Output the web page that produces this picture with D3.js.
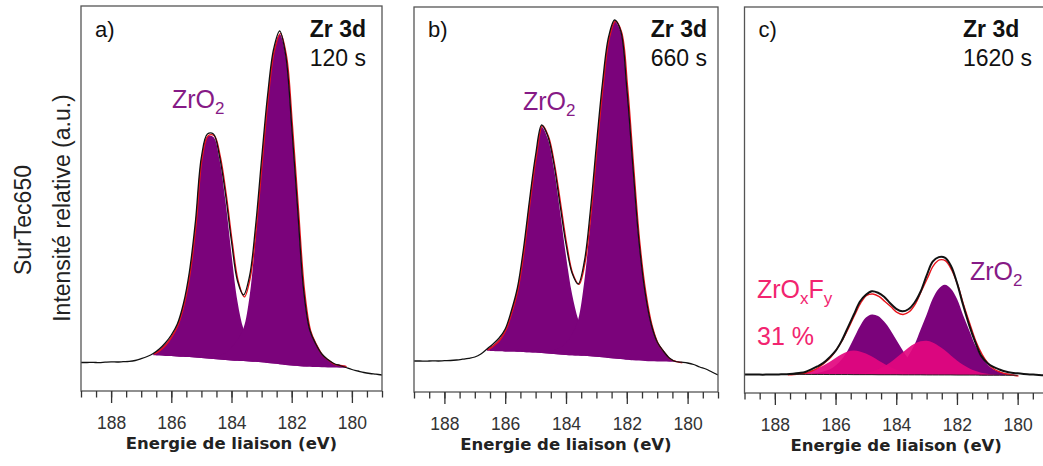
<!DOCTYPE html>
<html><head><meta charset="utf-8">
<script src="https://cdn.jsdelivr.net/npm/d3@7"></script>
<style>body{margin:0;background:#fff;overflow:hidden}svg{display:block}</style>
</head><body><svg id="chart" width="1043" height="466"></svg>
<script>
// ---------- DATA (binding energy in eV, intensity in arbitrary units) ----------
const rawEnergy = [189.0,188.8,188.6,188.4,188.2,188.0,187.8,187.6,187.4,187.2,187.0,
  186.8,186.6,186.4,186.2,186.0,185.8,185.6,185.4,185.2,185.0,
  184.8,184.6,184.4,184.2,184.0,183.8,183.6,183.4,183.2,183.0,
  182.8,182.6,182.4,182.2,182.0,181.8,181.6,181.4,181.2,181.0,
  180.8,180.6,180.4,180.2,180.0,179.8,179.6,179.4,179.2,179.0];

// a) 120 s
const rawA = [28.5,28.5,28.7,28.3,28.8,29.2,29.0,29.3,29.6,30.5,32.3,
  34.5,37.5,42,48,56,67,87,119,169,234,
  257,257,235,197,149.5,110,96,115,165,232,
  296,342,360,336,265,181,100,61,47,37,
  31.5,27.5,25.5,23.5,21.5,20,18.5,17.5,16.8,16];
// b) 660 s
const rawB = [31,31,30.8,31.2,31,31.3,31.5,32,32.8,33.7,35,
  38,43,48,54,63,81,104,143,192,237,
  267,256,228.5,188,148,119,108,130,181,247,
  309,355,372,361,304,226,151,100,68,50,
  41,34,30.5,29.8,29,27.5,25,23,20,17];
// c) 1620 s
const rawC = [18.5,18.5,18.5,18.3,18.5,18.4,18.6,18.8,19.3,20,21,
  23.5,26.5,30,35.5,42,52,65,78,91,98,
  101.5,100,96,89.5,84,81.5,83.5,90,101,117,
  131,135.5,135,127,110,88,68,51,37,30,
  26,23.5,21.5,20.2,19.6,19,18.5,18.2,17.8,17.5];

const compEnergyAB = [186.6,186.4,186.2,186.0,185.8,185.6,185.4,185.2,185.0,184.8,
  184.6,184.4,184.2,184.0,183.8,183.6,183.4,183.2,183.0,182.8,
  182.6,182.4,182.2,182.0,181.8,181.6,181.4,181.2,181.0,180.8,
  180.6,180.4,180.2];

const bgA = [35.7,35.4,35.1,34.9,34.6,34.3,34.0,33.6,33.1,32.6,
  32.0,31.4,30.9,30.5,30.2,29.9,29.6,29.2,28.7,28.1,
  27.4,26.7,26.0,25.4,24.9,24.5,24.2,23.9,23.7,23.5,
  23.4,23.3,23.2];
const zro2_32_A = [2,6,12,20,32,52,84,134,200,222,
  222,200,159,106,59,32,20,11,7,3,
  2,1.5,1,1,0.5,0.5,0,0,0,0,
  0,0,0];
const zro2_52_A = [0,0,0,0.5,0.5,1,1,1,1,1.5,
  2,4,7,13,21,33,65,125,196,265,
  312,330,309,239,156,76,37,23,13,8,
  4,3,2];

const bgB = [41.3,41.0,40.8,40.6,40.4,40.2,40.0,39.7,39.4,39.0,
  38.5,38.0,37.5,37.1,36.8,36.5,36.2,35.8,35.3,34.7,
  34.1,33.5,32.9,32.3,31.8,31.4,31.1,30.8,30.6,30.4,
  30.3,30.2,30.1];
const zro2_32_B = [1.5,6,12,22,40,63,102,152,196,226,
  215,186,144,99,61,36,20,11,6,3,
  2,1,1,0.5,0,0,0,0,0,0,
  0,0,0];
const zro2_52_B = [0,0,0,0.5,0.5,1,1,1,1.5,2,
  2.5,4,7,12,21,36,74,134,206,271,
  319,337,327,273,194,119,69,37,19,10.5,
  3.5,1,0];

const compEnergyC = [187.6,187.4,187.2,187.0,186.8,186.6,186.4,186.2,186.0,185.8,
  185.6,185.4,185.2,185.0,184.8,184.6,184.4,184.2,184.0,183.8,
  183.6,183.4,183.2,183.0,182.8,182.6,182.4,182.2,182.0,181.8,
  181.6,181.4,181.2,181.0,180.8,180.6,180.4,180.2,180.0];
const bgC = [18.6,18.6,18.6,18.5,18.5,18.5,18.5,18.4,18.4,18.4,
  18.4,18.3,18.3,18.3,18.3,18.2,18.2,18.2,18.2,18.1,
  18.1,18.1,18.1,18.0,18.0,18.0,18.0,18.0,17.9,17.9,
  17.9,17.9,17.8,17.8,17.8,17.8,17.7,17.7,17.7];
const zro2_32_C = [0,0,0,0,0.5,1.5,3,5,9,15,
  24,36,48,57,60,58.5,53,45,35,25,
  16,9.5,5.5,3,1.5,0.5,0,0,0,0,
  0,0,0,0,0,0,0,0,0];
const zro2_52_C = [0,0,0,0,0,0,0,0,0,0,
  0,0,0,0,0,0.5,1.5,3.5,6,11,
  19,30,45,60,76,86,90,86,76,60,
  45,30,19,11,6,3.5,2,1,0];
const zroxfy_32_C = [0.3,0.6,1.2,2.2,3.8,6,9,12.5,16.5,20.2,
  23,24,23.2,21,18,14.5,11,7.8,5,3,
  1.7,0.9,0.4,0.2,0,0,0,0,0,0,
  0,0,0,0,0,0,0,0,0];
const zroxfy_52_C = [0,0,0,0,0,0,0,0,0,0,
  0,0,1,1.8,3.2,5.4,8.4,12.3,17,22,
  27,31,33.4,34,32.4,29,24.6,19.5,14.6,10.2,
  6.8,4.2,2.5,1.4,0.7,0.3,0,0,0];

const majorTicks = [188,186,184,182,180];
const energyDomain = [189,179];
const intensityDomain = [0,385];
const panelLetters = ["a)","b)","c)"];
const panelTimes = ["120 s","660 s","1620 s"];
const coreLevel = "Zr 3d";
const xTitle = "Energie de liaison (eV)";
const yTitle1 = "SurTec650";
const yTitle2 = "Intensité relative (a.u.)";
const ratioLabel = "31 %";

// ---------- STYLE ----------
const PURPLE = "#7b037b", PURPLE_TXT = "#861a86";
const PINK = "#e3077f", PINK_TXT = "#f2246f";
const FONT = "'Liberation Sans', Arial, sans-serif";

const svg = d3.select("#chart");

const panels = [
  {x0:81, x1:382, y0:6, y1:391, raw:rawA, E:compEnergyAB, bg:bgA,
   comps:[{v:zro2_32_A,c:PURPLE,o:1},{v:zro2_52_A,c:PURPLE,o:1}], rawW:1.3,
   tEnd:true, tX:366, zr:{x:172,y:108}},
  {x0:414, x1:718, y0:7, y1:392, raw:rawB, E:compEnergyAB, bg:bgB,
   comps:[{v:zro2_32_B,c:PURPLE,o:1},{v:zro2_52_B,c:PURPLE,o:1}], rawW:1.3,
   tEnd:true, tX:707, zr:{x:523,y:110}},
  {x0:744.5, x1:1048, y0:7, y1:393, raw:rawC, E:compEnergyC, bg:bgC,
   comps:[{v:zro2_32_C,c:PURPLE,o:1},{v:zro2_52_C,c:PURPLE,o:1},
          {v:zroxfy_32_C,c:PINK,o:0.92},{v:zroxfy_52_C,c:PINK,o:0.92}], rawW:2,
   tEnd:false, tX:963, zr:{x:970,y:280}}
];

panels.forEach((p,i)=>{
  const x = d3.scaleLinear().domain(energyDomain).range([p.x0,p.x1]);
  const y = d3.scaleLinear().domain(intensityDomain).range([p.y1,p.y0]);
  const g = svg.append("g");
  const clipId = "clip"+i;
  svg.append("clipPath").attr("id",clipId).append("rect")
    .attr("x",p.x0).attr("y",p.y0).attr("width",p.x1-p.x0).attr("height",p.y1-p.y0);
  const plot = g.append("g").attr("clip-path",`url(#${clipId})`);

  // component fills
  p.comps.forEach(c=>{
    const area = d3.area()
      .x((d,j)=>x(p.E[j]))
      .y0((d,j)=>y(p.bg[j]))
      .y1((d,j)=>y(p.bg[j]+c.v[j]))
      .curve(d3.curveCatmullRom.alpha(0.5));
    plot.append("path").datum(c.v).attr("d",area)
      .attr("fill",c.c).attr("fill-opacity",c.o).attr("stroke","none");
  });

  // fitted envelope (sum of components + background)
  const fit = p.E.map((e,j)=>p.bg[j]+d3.sum(p.comps,c=>c.v[j]));
  const line = d3.line().x((d,j)=>x(p.E[j])).y(d=>y(d)).curve(d3.curveCatmullRom.alpha(0.5));
  plot.append("path").datum(fit).attr("d",line)
    .attr("fill","none").attr("stroke","#e8141c").attr("stroke-width",1.4)
    .attr("transform","translate(0.8,0.8)");

  // background line for panel c
  if(i===2){
    plot.append("path").datum(p.bg).attr("d",line)
      .attr("fill","none").attr("stroke","#222").attr("stroke-width",1);
  }

  // raw data
  const rline = d3.line().x((d,j)=>x(rawEnergy[j])).y(d=>y(d)).curve(d3.curveCatmullRom.alpha(0.5));
  plot.append("path").datum(p.raw).attr("d",rline)
    .attr("fill","none").attr("stroke","#111").attr("stroke-width",p.rawW);

  // frame
  g.append("rect").attr("x",p.x0).attr("y",p.y0).attr("width",p.x1-p.x0).attr("height",p.y1-p.y0)
    .attr("fill","none").attr("stroke","#555").attr("stroke-width",1.3);

  // axes
  const minor = g.append("g").attr("transform",`translate(0,${p.y1})`)
    .call(d3.axisBottom(x).tickValues(x.ticks(20)).tickSize(6.5).tickFormat(""));
  const major = g.append("g").attr("transform",`translate(0,${p.y1})`)
    .call(d3.axisBottom(x).tickValues(majorTicks).tickSize(12).tickPadding(14).tickFormat(d3.format("d")));
  [minor,major].forEach(ax=>{
    ax.select(".domain").remove();
    ax.selectAll(".tick line").attr("stroke","#333").attr("stroke-width",1.3);
    ax.selectAll(".tick text").attr("font-family",FONT).attr("font-size",17.5).attr("fill","#333");
  });

  g.append("text").attr("x",(p.x0+p.x1)/2).attr("y",p.y1+58)
    .attr("text-anchor","middle").attr("font-family","'DejaVu Sans', Verdana, sans-serif")
    .attr("font-weight","bold").attr("font-size",16.5).attr("fill","#222").text(xTitle);

  // panel letter
  g.append("text").attr("x",p.x0+14).attr("y",37).attr("font-family",FONT)
    .attr("font-size",22).attr("fill","#111").text(panelLetters[i]);
  // core level + time
  g.append("text").attr("x",p.tX).attr("y",37).attr("text-anchor",p.tEnd?"end":"start")
    .attr("font-family",FONT).attr("font-weight","bold").attr("font-size",23).attr("fill","#111").text(coreLevel);
  g.append("text").attr("x",p.tX).attr("y",66).attr("text-anchor",p.tEnd?"end":"start")
    .attr("font-family",FONT).attr("font-size",23).attr("fill","#111").text(panelTimes[i]);

  // ZrO2 label
  const t = g.append("text").attr("x",p.zr.x).attr("y",p.zr.y).attr("font-family",FONT)
    .attr("font-size",25).attr("fill",PURPLE_TXT);
  t.append("tspan").text("ZrO");
  t.append("tspan").attr("font-size",17).attr("dy",6).text("2");
});

// ZrOxFy label in panel c
const zf = svg.append("text").attr("x",757).attr("y",298).attr("font-family",FONT)
  .attr("font-size",25).attr("fill",PINK_TXT);
zf.append("tspan").text("ZrO");
zf.append("tspan").attr("font-size",17).attr("dy",6).text("x");
zf.append("tspan").attr("dy",-6).text("F");
zf.append("tspan").attr("font-size",17).attr("dy",6).text("y");
svg.append("text").attr("x",757).attr("y",345).attr("font-family",FONT)
  .attr("font-size",25).attr("fill",PINK_TXT).text(ratioLabel);

// y titles
svg.append("text").attr("transform","translate(31,220) rotate(-90)").attr("text-anchor","middle")
  .attr("font-family",FONT).attr("font-size",23).attr("fill","#222").text(yTitle1);
svg.append("text").attr("transform","translate(70,208) rotate(-90)").attr("text-anchor","middle")
  .attr("font-family",FONT).attr("font-size",23).attr("fill","#222").text(yTitle2);
</script></body></html>
